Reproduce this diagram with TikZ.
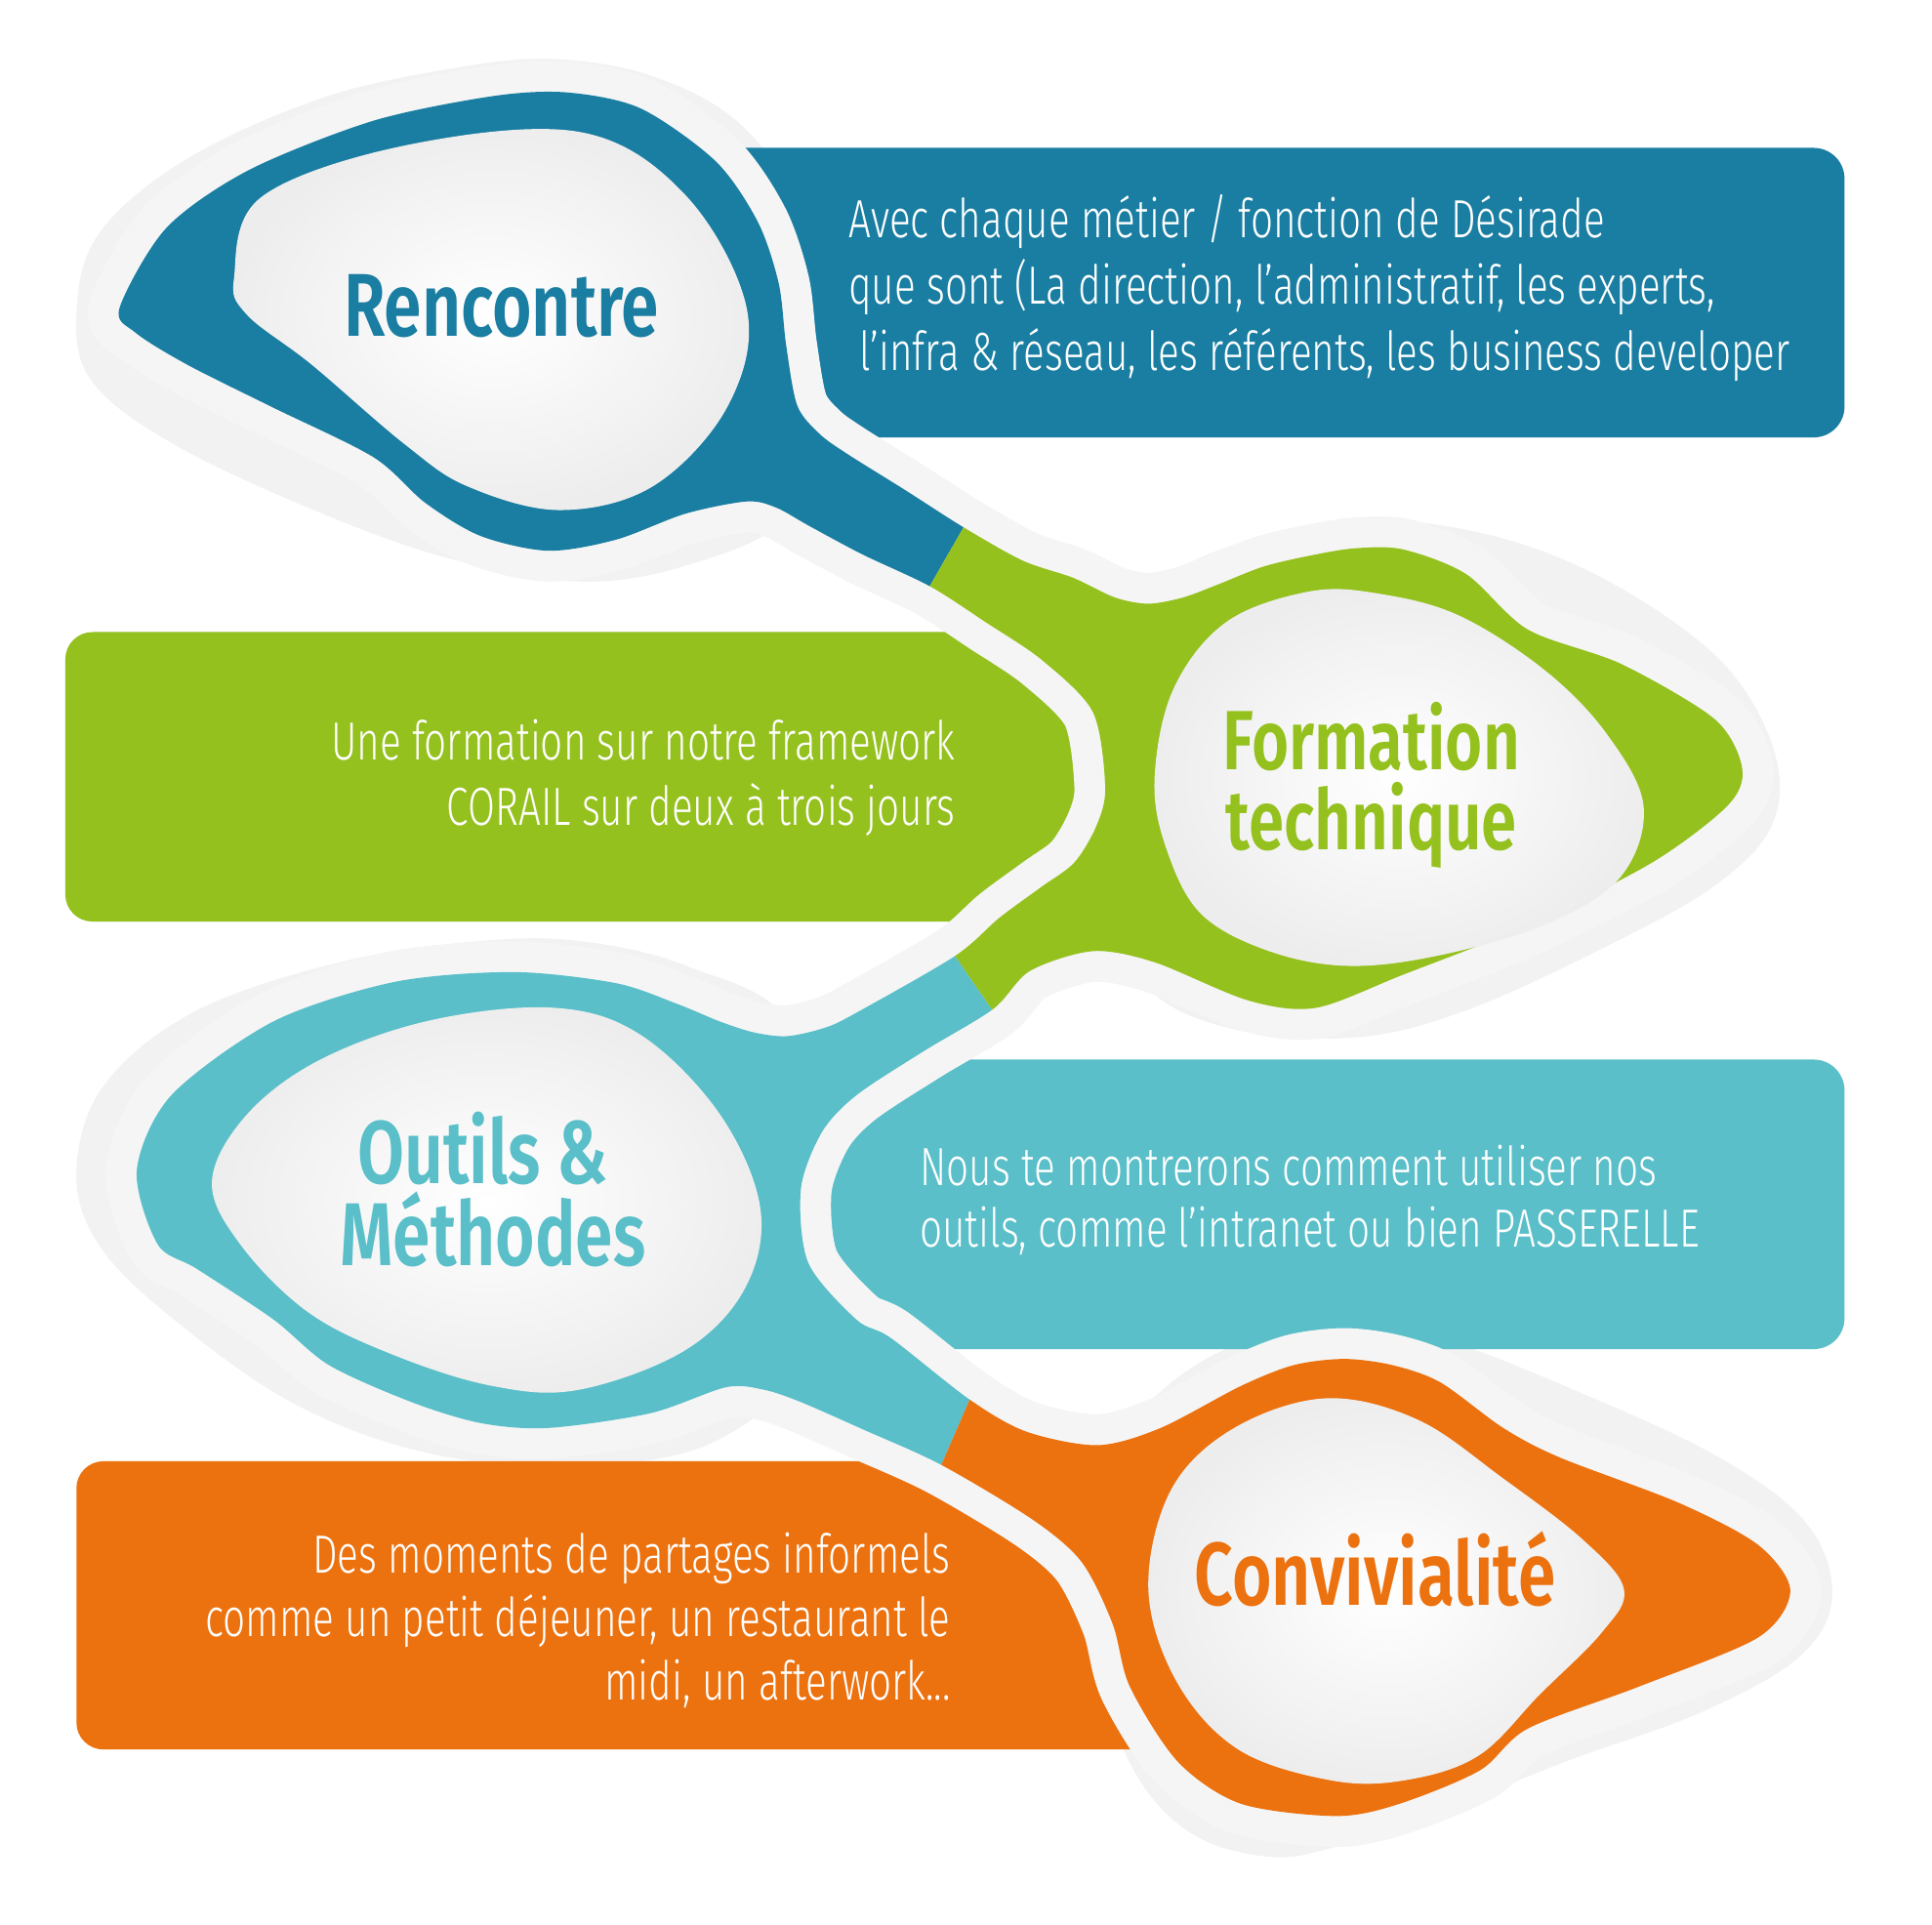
\documentclass[tikz,border=0pt]{standalone}
\usepackage{fontspec}
\usepackage{tikz}
\newfontfamily\bodyfont[FakeStretch=0.735]{Fira Sans Light}
\newfontfamily\titlefont[FakeStretch=0.76]{Fira Sans SemiBold}
\definecolor{rencblue}{HTML}{1A7EA2}
\definecolor{formgreen}{HTML}{95C11F}
\definecolor{outcyan}{HTML}{5ABFC9}
\definecolor{convorange}{HTML}{EC7210}
\definecolor{halogray}{HTML}{F2F2F2}
\definecolor{ringgray}{HTML}{F5F5F5}

\begin{document}
\begin{tikzpicture}[x=0.01cm, y=-0.01cm,
    every node/.style={inner sep=0pt},
    body/.style={font=\bodyfont\fontsize{12.4}{15}\selectfont, text=white},
    title/.style={font=\titlefont\fontsize{20.6}{20}\selectfont},
    smalltitle/.style={font=\titlefont\fontsize{19.4}{19}\selectfont},
    bowl/.style={inner color=white, outer color=black!7},
    halo/.style={fill=halogray},
    spoonchain/.style={insert path={plot[smooth cycle, tension=0.5] coordinates {
      (97,250) (135,185) (202,138) (303,98) (400,78) (460,75) (520,88) (581,131)
      (615,180) (632,230) (638,280) (647,329) (665,352) (687,368) (735,398)
      (782,428) (830,455) (871,469) (905,485) (932,490) (960,485) (987,475)
      (1025,460) (1063,451) (1100,445) (1139,446) (1190,466) (1240,511)
      (1316,539) (1392,584) (1414,624) (1402,654) (1341,700) (1240,751)
      (1139,791) (1068,818) (1013,812) (937,781) (887,772) (836,788)
      (806,819) (750,853) (695,889) (667,919) (650,965) (656,1025) (695,1071)
      (723,1086) (787,1136) (833,1162) (891,1173) (942,1159) (1007,1125)
      (1050,1108) (1091,1103) (1130,1108) (1169,1122) (1220,1159) (1266,1183)
      (1363,1220) (1427,1254) (1453,1291) (1427,1329) (1330,1369) (1240,1403)
      (1201,1437) (1136,1464) (1085,1474) (1007,1464) (956,1430) (917,1369)
      (903,1318) (878,1268) (839,1234) (764,1189) (700,1160) (650,1138)
      (620,1128) (589,1126) (528,1147) (445,1159) (390,1155) (334,1138)
      (267,1108) (222,1071) (160,1030) (128,1010) (111,950) (139,889)
      (222,829) (320,797) (417,789) (500,798) (550,815) (584,829) (612,838)
      (639,841) (670,834) (695,822) (775,776) (811,745) (845,720) (872,700)
      (890,670) (897,639) (887,578) (846,536) (800,505) (755,476) (700,450)
      (657,427) (630,412) (606,407) (556,417) (500,438) (445,447) (390,435)
      (345,408) (303,371) (220,330) (152,296) (110,270)}}}]

  \useasboundingbox[fill=white] (0,0) rectangle (1568,1562);

  % grey shadows behind the spoons
  \fill[halo] plot[smooth cycle, tension=0.6] coordinates {(62,255) (80,190)
    (150,130) (260,80) (370,55) (450,48) (530,62) (600,100) (650,170) (670,260)
    (680,340) (640,420) (560,458) (470,472) (360,452) (250,412) (140,360) (75,310)};
  \fill[halo] plot[smooth cycle, tension=0.6] coordinates {(900,520) (960,460)
    (1050,430) (1130,422) (1230,440) (1320,480) (1400,540) (1440,610) (1438,670)
    (1390,720) (1300,770) (1190,820) (1100,842) (1000,835) (930,800) (900,720) (895,620)};
  \fill[halo] plot[smooth cycle, tension=0.6] coordinates {(62,950) (85,880)
    (160,820) (280,780) (400,763) (480,765) (560,785) (640,830) (660,950)
    (650,1100) (580,1170) (470,1190) (350,1180) (240,1140) (140,1070) (80,1010)};
  \fill[halo] plot[smooth cycle, tension=0.6] coordinates {(880,1260) (900,1180)
    (960,1115) (1040,1078) (1110,1075) (1180,1090) (1270,1125) (1390,1180)
    (1465,1235) (1487,1295) (1460,1345) (1380,1390) (1270,1430) (1170,1470)
    (1080,1500) (1030,1507) (970,1490) (925,1445) (895,1370)};

  % text boxes
  \fill[rencblue, rounded corners=2.5mm] (450,120) rectangle (1497,355);
  \fill[formgreen, rounded corners=2.2mm] (53,513) rectangle (1000,748);
  \fill[outcyan, rounded corners=2.5mm] (560,860) rectangle (1497,1095);
  \fill[convorange, rounded corners=2.2mm] (62,1186) rectangle (1000,1420);

  % white ring round the chain
  \draw[ringgray, line width=0.5cm, line join=round, spoonchain];

  % the four coloured parts
  \begin{scope}
    \clip (0,0) -- (1028,0) -- (782,428) -- (755,475) -- (683,600) -- (0,600) -- cycle;
    \fill[rencblue, spoonchain];
  \end{scope}
  \begin{scope}
    \clip (1028,0) -- (1568,0) -- (1568,880) -- (847,880) -- (806,821) -- (775,776)
      -- (723,700) -- (683,600) -- (755,475) -- (782,428) -- cycle;
    \fill[formgreen, spoonchain];
  \end{scope}
  \begin{scope}
    \clip (0,600) -- (683,600) -- (723,700) -- (775,776) -- (806,821) -- (847,880)
      -- (811,1080) -- (787,1136) -- (764,1189) -- (720,1290) -- (0,1290) -- cycle;
    \fill[outcyan, spoonchain];
  \end{scope}
  \begin{scope}
    \clip (811,1080) -- (847,880) -- (1568,880) -- (1568,1562) -- (0,1562)
      -- (0,1290) -- (720,1290) -- (764,1189) -- (787,1136) -- cycle;
    \fill[convorange, spoonchain];
  \end{scope}

  % bowls
  \shade[bowl] plot[smooth cycle, tension=0.6] coordinates {(190,225) (212,160)
    (329,118) (470,107) (556,158) (606,250) (591,329) (531,394) (455,414)
    (380,395) (329,361) (253,296) (200,255)};
  \shade[bowl] plot[smooth cycle, tension=0.6] coordinates {(937,633) (952,560)
    (995,505) (1063,480) (1120,482) (1185,500) (1255,545) (1305,597) (1334,655)
    (1315,712) (1255,750) (1170,775) (1095,784) (1030,772) (975,742) (947,690)};
  \shade[bowl] plot[smooth cycle, tension=0.6] coordinates {(172,959) (200,905)
    (260,860) (350,828) (450,818) (520,840) (584,904) (617,980) (605,1045)
    (556,1096) (470,1128) (400,1125) (320,1100) (250,1065) (195,1010)};
  \shade[bowl] plot[smooth cycle, tension=0.6] coordinates {(932,1290) (950,1210)
    (1000,1160) (1075,1135) (1150,1152) (1220,1200) (1285,1250) (1318,1290)
    (1300,1325) (1250,1375) (1200,1425) (1140,1445) (1080,1445) (1005,1420) (955,1365)};

  % titles
  \node[title, text=rencblue, anchor=base] (renc) at (407,273) {Rencontre};
  \node[smalltitle, text=formgreen, anchor=base] (form1) at (1113,625) {Formation};
  \node[smalltitle, text=formgreen, anchor=base] (form2) at (1113,690) {technique};
  \node[title, text=outcyan, anchor=base] (outi1) at (392,961) {Outils \&};
  \node[title, text=outcyan, anchor=base] (outi2) at (400,1027) {Méthodes};
  \node[title, text=convorange, anchor=base] (conv) at (1116,1303) {Convivialité};

  % box texts
  \node[body, anchor=base west] (rtxt1) at (688,193) {Avec chaque métier / fonction de Désirade};
  \node[body, anchor=base west] (rtxt2) at (688,247) {que sont (La direction, l’administratif, les experts,};
  \node[body, anchor=base west] (rtxt3) at (697,301) {l’infra \& réseau, les référents, les business developer};
  \node[body, anchor=base east] (ftxt1) at (776,617) {Une formation sur notre framework};
  \node[body, anchor=base east] (ftxt2) at (776,670) {CORAIL sur deux à trois jours};
  \node[body, anchor=base west] (otxt1) at (746,962) {Nous te montrerons comment utiliser nos};
  \node[body, anchor=base west] (otxt2) at (746,1012) {outils, comme l’intranet ou bien PASSERELLE};
  \node[body, anchor=base east] (ctxt1) at (772,1277) {Des moments de partages informels};
  \node[body, anchor=base east] (ctxt2) at (772,1328) {comme un petit déjeuner, un restaurant le};
  \node[body, anchor=base east] (ctxt3) at (772,1380) {midi, un afterwork...};
\end{tikzpicture}
\end{document}
